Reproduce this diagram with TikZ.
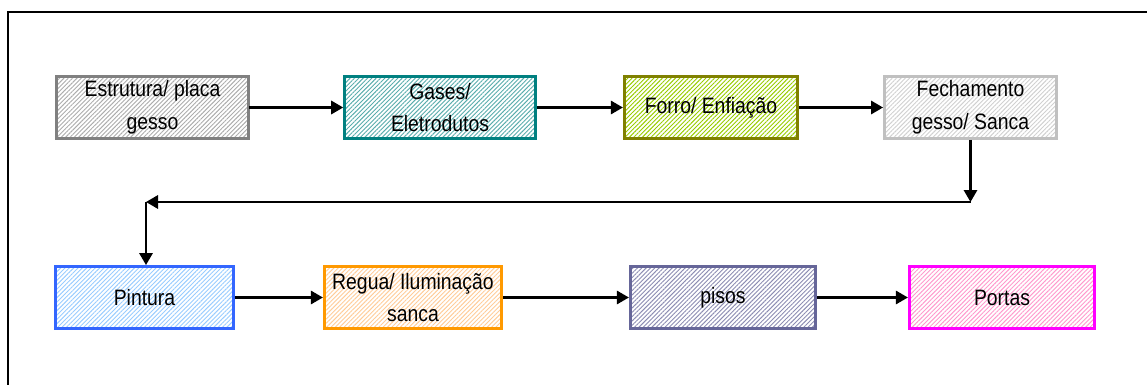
\documentclass[tikz,border=0pt]{standalone}
\usepackage{fontspec}
\setmainfont{Liberation Sans}[FakeStretch=0.87]
\usetikzlibrary{arrows.meta,patterns.meta}

\definecolor{cinza}{RGB}{128,128,128}
\definecolor{cinzaclaro}{RGB}{192,192,192}
\definecolor{verdeagua}{RGB}{0,128,128}
\definecolor{oliva}{RGB}{128,128,0}
\definecolor{limao}{RGB}{153,204,0}
\definecolor{azul}{RGB}{51,102,255}
\definecolor{azulclaro}{RGB}{153,204,255}
\definecolor{laranja}{RGB}{255,153,0}
\definecolor{laranjaclaro}{RGB}{255,204,153}
\definecolor{ardosia}{RGB}{102,102,153}
\definecolor{magenta}{RGB}{255,0,255}
\definecolor{rosa}{RGB}{255,153,204}

\begin{document}
\begin{tikzpicture}[x=0.75pt, y=-0.75pt,
		etapa/.style n args={3}{draw=#1, line width=2.2pt, pattern={Lines[angle=45, distance=2.3pt, line width=0.7pt]}, pattern color=#2, minimum width=#3, minimum height=46.5pt, inner sep=0pt, align=center, font=\fontsize{16.7}{24.4}\selectfont},
		flecha/.style={-{Triangle[length=9pt, width=10pt]}, line width=1.6pt}]
		\useasboundingbox (0,0) rectangle (1147,385);
		\draw[line width=1.5pt] (1160,12) -- (8,12) -- (8,400);

		\node[etapa={cinza}{cinza!65}{144pt}] (estrutura) at (152.5,107.5) {Estrutura/ placa\\gesso};
		\node[etapa={verdeagua}{verdeagua!65}{143pt}] (gases) at (440,107.5) {Gases/\\Eletrodutos};
		\node[etapa={oliva}{limao}{130pt}] (forro) at (711,107.5) {Forro/ Enfiação};
		\node[etapa={cinzaclaro}{cinzaclaro!75}{129pt}] (fechamento) at (970.5,107.5) {Fechamento\\gesso/ Sanca};

		\node[etapa={azul}{azulclaro}{133.5pt}] (pintura) at (144.5,297.5) {Pintura};
		\node[etapa={laranja}{laranjaclaro}{133pt}] (regua) at (413,297.5) {Regua/ Iluminação\\sanca};
		\node[etapa={ardosia}{ardosia!75}{139pt}] (pisos) at (723,297.5) {pisos};
		\node[etapa={magenta}{rosa}{139pt}] (portas) at (1002,297.5) {Portas};

		\coordinate (voltaD) at (970.5,202);
		\coordinate (voltaE) at (146,202);

		\draw[flecha] (estrutura) -- (gases);
		\draw[flecha] (gases) -- (forro);
		\draw[flecha] (forro) -- (fechamento);
		\draw[flecha] (fechamento.south) -- (voltaD);
		\draw[flecha] (voltaD) -- (voltaE);
		\draw[flecha] (voltaE) -- (voltaE |- pintura.north);
		\draw[flecha] (pintura) -- (regua);
		\draw[flecha] (regua) -- (pisos);
		\draw[flecha] (pisos) -- (portas);
	\end{tikzpicture}
\end{document}
